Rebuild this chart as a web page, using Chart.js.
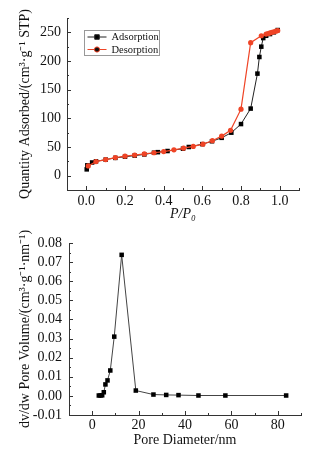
<!DOCTYPE html>
<html>
<head>
<meta charset="utf-8">
<script src="https://cdn.jsdelivr.net/npm/chart.js@4.4.0/dist/chart.umd.min.js"></script>
<style>
  body { margin: 0; background: #fff; }
  canvas { display: block; }
</style>
</head>
<body>
<canvas id="iso" width="326" height="225"></canvas>
<canvas id="pore" width="326" height="226"></canvas>
<script>
// isotherm, adsorption branch
const adsX = [0.002, 0.005, 0.03, 0.05, 0.1, 0.15, 0.2, 0.25, 0.3, 0.35, 0.37, 0.42, 0.5, 0.53, 0.6, 0.65, 0.7, 0.75, 0.8, 0.85, 0.885, 0.895, 0.905, 0.915, 0.93, 0.95, 0.97, 0.99];
const adsY = [11, 18, 23, 25, 28, 31, 33, 35, 37, 40, 41, 43, 47, 50, 55, 60, 66, 75, 90, 117, 178, 207, 225, 240, 244, 247, 250, 254];
// isotherm, desorption branch
const desX = [0.99, 0.98, 0.97, 0.96, 0.95, 0.94, 0.93, 0.905, 0.85, 0.8, 0.746, 0.7, 0.652, 0.603, 0.553, 0.503, 0.453, 0.4, 0.35, 0.3, 0.25, 0.2, 0.15, 0.1, 0.05, 0.01];
const desY = [253, 252, 251, 250, 249, 248, 247, 244, 232, 116, 79, 69, 61, 55, 51, 48, 45, 42, 40, 38, 36, 34, 31.5, 28, 24.5, 17];
// pore size distribution
const poreD = [2.85, 3.6, 4.3, 5.0, 5.7, 6.6, 7.8, 9.5, 12.7, 18.8, 26.4, 31.9, 37.2, 45.8, 57.4, 83.6];
const poreV = [0.0002, 0.0002, 0.0003, 0.0019, 0.006, 0.0081, 0.0133, 0.031, 0.0738, 0.0028, 0.0007, 0.0005, 0.0004, 0.0002, 0.0002, 0.0002];

const isoXTicks = [0, 0.2, 0.4, 0.6, 0.8, 1.0];
const isoXMinor = [-0.1, 0.1, 0.3, 0.5, 0.7, 0.9, 1.1];
const isoYTicks = [0, 50, 100, 150, 200, 250];
const isoYMinor = [-25, 25, 75, 125, 175, 225, 275];
const poreXTicks = [0, 20, 40, 60, 80];
const poreXMinor = [-10, 10, 30, 50, 70, 90];
const poreYTicks = [-0.01, 0, 0.01, 0.02, 0.03, 0.04, 0.05, 0.06, 0.07, 0.08];
const poreYMinor = [-0.005, 0.005, 0.015, 0.025, 0.035, 0.045, 0.055, 0.065, 0.075];

const SERIF = '"Liberation Serif", "Times New Roman", serif';
const INK = '#111';
const AXIS = '#333';
const RED = '#ef4426';

function pts(xs, ys) {
  return xs.map((x, i) => ({ x: x, y: ys[i] }));
}

// small inward tick marks on the left and bottom axes
const tickMarks = {
  id: 'tickMarks',
  afterDraw(chart, args, opts) {
    const ctx = chart.ctx;
    const sx = chart.scales.x, sy = chart.scales.y;
    const area = chart.chartArea;
    ctx.save();
    ctx.strokeStyle = AXIS;
    ctx.lineWidth = 1;
    ctx.beginPath();
    const xt = (list, len) => list.forEach(v => {
      const px = Math.round(sx.getPixelForValue(v)) + 0.5;
      ctx.moveTo(px, area.bottom);
      ctx.lineTo(px, area.bottom - len);
    });
    const yt = (list, len) => list.forEach(v => {
      const py = Math.round(sy.getPixelForValue(v)) + 0.5;
      ctx.moveTo(area.left, py);
      ctx.lineTo(area.left + len, py);
    });
    xt(opts.xMajor, 4); xt(opts.xMinor, 2);
    yt(opts.yMajor, 4); yt(opts.yMinor, 2);
    ctx.stroke();
    ctx.restore();
  }
};

// legend box inside the plot, top-left
const boxLegend = {
  id: 'boxLegend',
  afterDraw(chart, args, opts) {
    if (!opts.show) return;
    const ctx = chart.ctx;
    const x0 = 84.5, y0 = 30.5, w = 75, h = 25;
    ctx.save();
    ctx.strokeStyle = '#999';
    ctx.lineWidth = 1;
    ctx.strokeRect(x0, y0, w, h);
    ctx.font = '10.5px ' + SERIF;
    ctx.textBaseline = 'middle';
    chart.data.datasets.forEach((ds, i) => {
      const yy = y0 + 6.5 + i * 12.5;
      ctx.strokeStyle = ds.borderColor;
      ctx.beginPath();
      ctx.moveTo(x0 + 3, yy);
      ctx.lineTo(x0 + 22, yy);
      ctx.stroke();
      Chart.helpers.drawPoint(ctx, { pointStyle: ds.pointStyle, radius: ds.pointRadius, borderWidth: 1 }, x0 + 12.5, yy);
      ctx.fillStyle = INK;
      ctx.fillText(ds.label, x0 + 27, yy + 0.5);
    });
    ctx.restore();
  }
};

function axis(min, max, ticks, fmt, size, pad, title, titlePad, style) {
  return {
    type: 'linear', min: min, max: max,
    afterBuildTicks: s => { s.ticks = ticks.map(v => ({ value: v })); },
    afterFit: s => { if (s.isHorizontal()) s.height = size; else s.width = size; },
    grid: { display: false, drawTicks: false },
    border: { display: true, color: AXIS, width: 1 },
    ticks: { autoSkip: false, maxRotation: 0, padding: pad, color: INK, font: { family: SERIF, size: 14 }, callback: v => v.toFixed(fmt) },
    title: { display: true, text: title, color: INK, font: { family: SERIF, size: 14, style: style || 'normal' }, padding: titlePad }
  };
}

const common = {
  responsive: false,
  animation: false,
  events: [],
  plugins: { legend: { display: false }, tooltip: { enabled: false } }
};

new Chart(document.getElementById('iso'), {
  type: 'scatter',
  data: {
    datasets: [
      { label: 'Adsorption', data: pts(adsX, adsY), showLine: true, borderColor: '#222', backgroundColor: '#000', borderWidth: 1,
        pointStyle: 'rect', pointRadius: 3.2, pointBorderWidth: 0, pointBackgroundColor: '#000', order: 2 },
      { label: 'Desorption', data: pts(desX, desY), showLine: true, borderColor: RED, backgroundColor: RED, borderWidth: 1.2,
        pointStyle: 'circle', pointRadius: 2.6, pointBorderWidth: 0, pointBackgroundColor: RED, order: 1 }
    ]
  },
  options: Object.assign({}, common, {
    layout: { padding: { top: 18, right: 27, bottom: 0, left: 0 } },
    scales: {
      x: axis(-0.1, 1.1, isoXTicks, 1, 35, 3, 'P/P\u2080', { top: 0, bottom: 2.5 }, 'italic'),
      y: axis(-25, 275, isoYTicks, 0, 67, 6, 'Quantity Adsorbed/(cm\u00b3\u00b7g\u207b\u00b9 STP)', { top: 17, bottom: 0 })
    },
    plugins: Object.assign({}, common.plugins, {
      tickMarks: { xMajor: isoXTicks, xMinor: isoXMinor, yMajor: isoYTicks, yMinor: isoYMinor },
      boxLegend: { show: true }
    })
  }),
  plugins: [tickMarks, boxLegend]
});

new Chart(document.getElementById('pore'), {
  type: 'scatter',
  data: {
    datasets: [
      { label: 'PSD', data: pts(poreD, poreV), showLine: true, borderColor: '#444', backgroundColor: '#000', borderWidth: 1,
        pointStyle: 'rect', pointRadius: 3.2, pointBorderWidth: 0, pointBackgroundColor: '#000' }
    ]
  },
  options: Object.assign({}, common, {
    layout: { padding: { top: 18, right: 25, bottom: 0, left: 0 } },
    scales: {
      x: axis(-10, 90, poreXTicks, 0, 36, 2, 'Pore Diameter/nm', { top: 0, bottom: 2.5 }),
      y: axis(-0.01, 0.08, poreYTicks, 2, 69, 7, 'dv/dw Pore Volume/(cm\u00b3\u00b7g\u207b\u00b9\u00b7nm\u207b\u00b9)', { top: 17, bottom: 0 })
    },
    plugins: Object.assign({}, common.plugins, {
      tickMarks: { xMajor: poreXTicks, xMinor: poreXMinor, yMajor: poreYTicks, yMinor: poreYMinor },
      boxLegend: { show: false }
    })
  }),
  plugins: [tickMarks, boxLegend]
});
</script>
</body>
</html>
